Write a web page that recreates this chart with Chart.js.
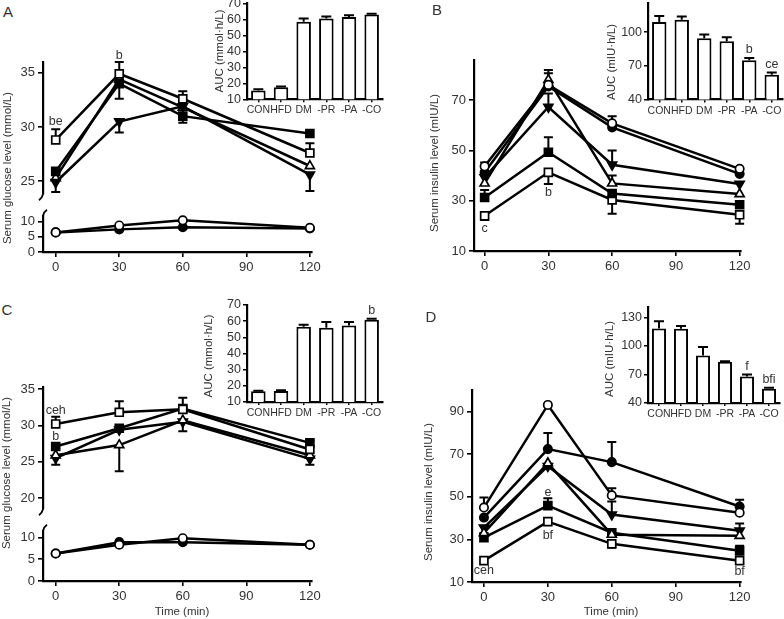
<!DOCTYPE html>
<html><head><meta charset="utf-8">
<script src="https://cdn.jsdelivr.net/npm/chart.js@4.4.0/dist/chart.umd.min.js"></script>
<style>
html,body{margin:0;padding:0;background:#fff;}
#wrap{position:relative;width:784px;height:619px;overflow:hidden;background:#fff;}
canvas{position:absolute;}
.tx{position:absolute;white-space:nowrap;color:#333;font-family:'Liberation Sans',Arial,sans-serif;line-height:1;}
</style></head>
<body><div id="wrap"></div>
<script>
// ---------- shared categories / ticks ----------
const times = [0, 30, 60, 120];
const xTicks = [0, 30, 60, 90, 120];
const groups = ['CON', 'HFD', 'DM', '-PR', '-PA', '-CO'];

// ---------- Panel A: glucose (mmol/L) ----------
const gA_CON = [6.5, 8.8, 10.5, 8.0];
const gA_HFD = [6.5, 7.5, 8.2, 7.8];
const gA_DM  = [25.3, 34.4, 31.8, 26.4];
const gA_PR  = [24.9, 30.5, 31.9, 25.6];
const gA_PA  = [25.9, 34.0, 31.0, 29.4];
const gA_CO  = [28.8, 34.9, 32.6, 27.6];
const eA_PR  = [24.0, 29.5, null, 24.1];
const eA_PA  = [null, 32.6, 30.4, null];
const eA_CO  = [29.8, 36.0, 33.3, 28.5];
const notesA = [{x: 0, y: 30.5, t: 'be'}, {x: 30, y: 36.6, t: 'b'}];
const aucA     = [15.5, 17.5, 58.5, 60.5, 61.5, 63.0];
const aucA_err = [16.3, 18.0, 60.5, 61.8, 62.6, 63.5];
const lettersA = ['', '', '', '', '', ''];

// ---------- Panel B: insulin (mIU/L) ----------
const iB_CON = [43.7, 76.1, 60.8, 42.7];
const iB_HFD = [41.3, 75.5, 59.2, 40.7];
const iB_DM  = [36.9, 78.1, 36.9, 32.7];
const iB_PR  = [39.3, 67.3, 44.3, 36.7];
const iB_PA  = [31.3, 49.3, 32.9, 28.4];
const iB_CO  = [24.0, 41.3, 30.3, 24.4];
const eB_CON = [45.2, 82.0, 63.6, null];
const eB_DM  = [null, 80.7, 40.0, null];
const eB_PR  = [null, 72.7, 50.0, null];
const eB_PA  = [34.3, 55.3, null, null];
const eB_CO  = [22.3, 36.7, 24.8, 20.8];
const notesB = [{x: 0, y: 19.1, t: 'c'}, {x: 30, y: 33.2, t: 'b'}];
const aucB     = [109, 111, 94.5, 92, 75, 62];
const aucB_err = [114.5, 114, 98, 95.5, 77, 64];
const lettersB = ['', '', '', '', 'b', 'ce'];

// ---------- Panel C: glucose (mmol/L) ----------
const gC_CON = [6.3, 8.3, 9.8, 8.3];
const gC_HFD = [6.3, 8.9, 8.9, 8.3];
const gC_DM  = [25.9, 27.3, 30.7, 25.9];
const gC_PR  = [25.5, 29.4, 30.5, 25.4];
const gC_PA  = [27.1, 29.6, 32.3, 27.6];
const gC_CO  = [30.2, 31.8, 32.2, 26.7];
const eC_DM  = [null, 23.7, null, null];
const eC_PR  = [24.6, null, 29.2, 24.6];
const eC_PA  = [null, null, null, 27.9];
const eC_CO  = [31.2, 33.3, 33.8, null];
const notesC = [{x: 0, y: 32.0, t: 'ceh'}, {x: 0, y: 28.5, t: 'b'}];
const aucC     = [16.6, 16.8, 56.5, 56.0, 57.3, 60.8];
const aucC_err = [17.0, 17.2, 57.8, 59.5, 59.5, 61.5];
const lettersC = ['', '', '', '', '', 'b'];

// ---------- Panel D: insulin (mIU/L) ----------
const iD_CON = [44.9, 93.0, 50.6, 42.5];
const iD_HFD = [40.2, 72.3, 66.2, 45.4];
const iD_DM  = [33.0, 65.7, 32.2, 31.7];
const iD_PR  = [35.5, 64.3, 41.6, 34.0];
const iD_PA  = [30.8, 45.8, 33.1, 24.6];
const iD_CO  = [20.0, 38.3, 27.9, 20.0];
const eD_CON = [49.6, null, 53.9, null];
const eD_HFD = [null, 79.8, 75.6, 48.6];
const eD_PR  = [33.0, null, 47.7, 37.4];
const eD_PA  = [null, 49.2, null, 27.0];
const eD_CO  = [null, null, 26.0, 19.0];
const notesD = [{x: 0, y: 15.6, t: 'ceh'}, {x: 30, y: 51.9, t: 'e'}, {x: 30, y: 31.6, t: 'bf'}, {x: 120, y: 14.8, t: 'bf'}];
const aucD     = [118.5, 118, 90, 83.5, 68, 55];
const aucD_err = [126, 121, 99, 84, 70, 56];
const lettersD = ['', '', '', '', 'f', 'bfi'];

// ---------- styling ----------
const FONT = "'Liberation Sans', Arial, sans-serif";
Chart.defaults.font.family = FONT;
Chart.defaults.color = '#333';
const MARK = {
  CON: ['circle', '#fff', 4.2, 0], HFD: ['circle', '#000', 4.2, 0],
  DM: ['triangle', '#fff', 5.2, 0], PR: ['triangle', '#000', 5.2, 180],
  PA: ['rect', '#000', 5.6, 0], CO: ['rect', '#fff', 5.6, 0]
};
function ds(key, vals, err) {
  const m = MARK[key];
  return {label: key, data: times.map((t, i) => ({x: t, y: vals[i]})), err: err || null,
    borderColor: '#000', borderWidth: 2.5, pointStyle: m[0], pointBackgroundColor: m[1],
    pointBorderColor: '#000', pointBorderWidth: 1.7, pointRadius: m[2], pointRotation: m[3],
    tension: 0, clip: false, fill: false};
}

const wrap = document.getElementById('wrap');
function mkCanvas(b) {
  const c = document.createElement('canvas');
  c.width = b.width; c.height = b.height;
  c.style.left = b.left + 'px'; c.style.top = b.top + 'px';
  c.style.width = b.width + 'px'; c.style.height = b.height + 'px';
  wrap.appendChild(c);
  return c;
}
function addText(t, cx, cy, size, rot) {
  const d = document.createElement('div');
  d.className = 'tx'; d.textContent = t;
  d.style.left = cx + 'px'; d.style.top = cy + 'px'; d.style.fontSize = size + 'px';
  d.style.transform = 'translate(-50%,-50%)' + (rot ? ' rotate(-90deg)' : '');
  wrap.appendChild(d);
}

const errPlugin = {
  id: 'errbars',
  beforeDatasetsDraw(chart) {
    const ctx = chart.ctx;
    chart.data.datasets.forEach((d, i) => {
      if (!d.err) return;
      const meta = chart.getDatasetMeta(i);
      const ys = chart.scales[meta.yAxisID];
      const cap = chart.config.type === 'bar' ? 5 : 4.5;
      ctx.save(); ctx.strokeStyle = '#000'; ctx.lineWidth = 2;
      d.err.forEach((e, j) => {
        if (e == null) return;
        const el = meta.data[j];
        const pe = ys.getPixelForValue(e);
        ctx.beginPath(); ctx.moveTo(el.x, el.y); ctx.lineTo(el.x, pe);
        ctx.moveTo(el.x - cap, pe); ctx.lineTo(el.x + cap, pe); ctx.stroke();
      });
      ctx.restore();
    });
  }
};
function notesPlugin(items) {
  return {id: 'notes', afterDatasetsDraw(chart) {
    const ctx = chart.ctx, xs = chart.scales.x, ys = chart.scales.y;
    ctx.save(); ctx.fillStyle = '#333'; ctx.font = '12.5px ' + FONT;
    ctx.textAlign = 'center'; ctx.textBaseline = 'middle';
    items.forEach(n => ctx.fillText(n.t, xs.getPixelForValue(n.x), ys.getPixelForValue(n.y)));
    ctx.restore();
  }};
}
const letterPlugin = {
  id: 'letters',
  afterDatasetsDraw(chart) {
    const ctx = chart.ctx; const d = chart.data.datasets[0];
    if (!d.letters) return;
    const meta = chart.getDatasetMeta(0); const ys = chart.scales.y;
    ctx.save(); ctx.fillStyle = '#333'; ctx.font = '12.5px ' + FONT;
    ctx.textAlign = 'center'; ctx.textBaseline = 'bottom';
    d.letters.forEach((t, j) => {
      if (!t) return;
      const el = meta.data[j];
      const top = Math.min(el.y, d.err ? ys.getPixelForValue(d.err[j]) : el.y);
      ctx.fillText(t, el.x, top - 2);
    });
    ctx.restore();
  }
};
function breakPlugin(where) {
  return {id: 'brk', afterDraw(chart) {
    if (!where) return;
    const a = chart.chartArea, ctx = chart.ctx;
    const x = a.left, y = where === 'bottom' ? a.bottom : a.top;
    ctx.save(); ctx.strokeStyle = '#000'; ctx.lineWidth = 1.8;
    ctx.beginPath();
    if (where === 'bottom') { ctx.moveTo(x, y); ctx.quadraticCurveTo(x - 1, y + 4, x - 4, y + 6); }
    else { ctx.moveTo(x, y); ctx.quadraticCurveTo(x + 1, y - 4, x + 4, y - 6); }
    ctx.stroke(); ctx.restore();
  }};
}

const GRID = {drawOnChartArea: false, drawTicks: true, tickLength: 5, color: '#000', lineWidth: 1.6};
const BORDER = {display: true, color: '#000', width: 2.2};

function lineChart(box, area, cfg) {
  const cv = mkCanvas(box);
  const xh = cfg.showX ? 30 : 0;
  return new Chart(cv, {
    type: 'line',
    data: {datasets: cfg.datasets},
    options: {
      responsive: false, animation: false, events: [],
      layout: {padding: {left: 0, top: area.top - box.top, right: box.left + box.width - area.right,
        bottom: box.top + box.height - area.bottom - xh}},
      plugins: {legend: {display: false}, tooltip: {enabled: false}},
      scales: {
        x: {type: 'linear', bounds: 'data', min: cfg.xMin, max: cfg.xMax, display: cfg.showX,
          afterBuildTicks: s => { s.ticks = xTicks.map(v => ({value: v})); },
          afterFit: s => { s.height = xh; },
          grid: GRID, border: BORDER,
          ticks: {padding: 3, color: '#333', font: {size: 13}, maxRotation: 0, autoSkip: false}},
        y: {type: 'linear', bounds: 'data', min: cfg.yMin, max: cfg.yMax,
          afterBuildTicks: s => { s.ticks = cfg.yTicks.map(v => ({value: v})); },
          afterFit: s => { s.width = area.left - box.left; },
          grid: GRID, border: BORDER,
          ticks: {padding: 3, color: '#333', font: {size: 13}, autoSkip: false}}
      }
    },
    plugins: [errPlugin, notesPlugin(cfg.notes || []), breakPlugin(cfg.brk)]
  });
}

function barChart(box, area, cfg) {
  const cv = mkCanvas(box);
  const xh = 20;
  return new Chart(cv, {
    type: 'bar',
    data: {labels: groups, datasets: [{data: cfg.vals, err: cfg.err, letters: cfg.letters,
      backgroundColor: '#fff', borderColor: '#000', borderWidth: 2, borderSkipped: 'start',
      barPercentage: 0.64, categoryPercentage: 1}]},
    options: {
      responsive: false, animation: false, events: [],
      layout: {padding: {left: 0, top: area.top - box.top, right: box.left + box.width - area.right,
        bottom: box.top + box.height - area.bottom - xh}},
      plugins: {legend: {display: false}, tooltip: {enabled: false}},
      scales: {
        x: {type: 'category', offset: true,
          afterFit: s => { s.height = xh; },
          grid: {drawOnChartArea: false, drawTicks: true, tickLength: 3, color: '#000', lineWidth: 1.5, offset: false},
          border: BORDER,
          ticks: {padding: 2, color: '#333', font: {size: 10.5}, maxRotation: 0, autoSkip: false}},
        y: {type: 'linear', bounds: 'data', min: cfg.yMin, max: cfg.yMax,
          afterBuildTicks: s => { s.ticks = cfg.yTicks.map(v => ({value: v})); },
          afterFit: s => { s.width = area.left - box.left; },
          grid: {drawOnChartArea: false, drawTicks: true, tickLength: 4, color: '#000', lineWidth: 1.5},
          border: BORDER,
          ticks: {padding: 2, color: '#333', font: {size: 12.5}, autoSkip: false}}
      }
    },
    plugins: [errPlugin, letterPlugin]
  });
}

// ---------- Panel A ----------
lineChart({left: 0, top: 40, width: 330, height: 165}, {left: 43, top: 61.9, right: 312, bottom: 197.3},
  {showX: false, xMin: -6, xMax: 121, yMin: 23.8, yMax: 36, yTicks: [25, 30, 35], brk: 'bottom', notes: notesA,
   datasets: [ds('CO', gA_CO, eA_CO), ds('PA', gA_PA, eA_PA), ds('PR', gA_PR, eA_PR), ds('DM', gA_DM)]});
lineChart({left: 0, top: 205, width: 330, height: 80}, {left: 43, top: 213.6, right: 312, bottom: 252},
  {showX: true, xMin: -6, xMax: 121, yMin: 0, yMax: 12, yTicks: [0, 5, 10], brk: 'top',
   datasets: [ds('CON', gA_CON), ds('HFD', gA_HFD)]});
barChart({left: 200, top: -10, width: 200, height: 130}, {left: 247, top: 3.3, right: 383, bottom: 99.3},
  {vals: aucA, err: aucA_err, letters: lettersA, yMin: 10, yMax: 70, yTicks: [10, 20, 30, 40, 50, 60, 70]});

// ---------- Panel B ----------
lineChart({left: 392, top: 40, width: 392, height: 250}, {left: 474, top: 60, right: 740.7, bottom: 251},
  {showX: true, xMin: -5, xMax: 120.5, yMin: 10, yMax: 86, yTicks: [10, 30, 50, 70], notes: notesB,
   datasets: [ds('CON', iB_CON, eB_CON), ds('HFD', iB_HFD), ds('DM', iB_DM, eB_DM), ds('PR', iB_PR, eB_PR),
              ds('PA', iB_PA, eB_PA), ds('CO', iB_CO, eB_CO)]});
barChart({left: 600, top: -10, width: 200, height: 130}, {left: 648, top: 3, right: 783, bottom: 99.5},
  {vals: aucB, err: aucB_err, letters: lettersB, yMin: 40, yMax: 126, yTicks: [40, 70, 100]});

// ---------- Panel C ----------
lineChart({left: 0, top: 370, width: 330, height: 150}, {left: 43, top: 387.5, right: 312, bottom: 510},
  {showX: false, xMin: -6, xMax: 121, yMin: 18.5, yMax: 35.2, yTicks: [20, 25, 30, 35], brk: 'bottom', notes: notesC,
   datasets: [ds('CO', gC_CO, eC_CO), ds('DM', gC_DM, eC_DM), ds('PA', gC_PA, eC_PA), ds('PR', gC_PR, eC_PR)]});
lineChart({left: 0, top: 520, width: 330, height: 99}, {left: 43, top: 528, right: 312, bottom: 581},
  {showX: true, xMin: -6, xMax: 121, yMin: 0, yMax: 11.5, yTicks: [0, 5, 10], brk: 'top',
   datasets: [ds('CON', gC_CON), ds('HFD', gC_HFD)]});
barChart({left: 200, top: 290, width: 200, height: 135}, {left: 247, top: 305, right: 383, bottom: 402},
  {vals: aucC, err: aucC_err, letters: lettersC, yMin: 10, yMax: 70, yTicks: [10, 20, 30, 40, 50, 60, 70]});

// ---------- Panel D ----------
lineChart({left: 392, top: 370, width: 392, height: 249}, {left: 472, top: 390, right: 740.7, bottom: 582},
  {showX: true, xMin: -5.6, xMax: 120.5, yMin: 10, yMax: 100, yTicks: [10, 30, 50, 70, 90], notes: notesD,
   datasets: [ds('CON', iD_CON, eD_CON), ds('HFD', iD_HFD, eD_HFD), ds('DM', iD_DM), ds('PR', iD_PR, eD_PR),
              ds('PA', iD_PA, eD_PA), ds('CO', iD_CO, eD_CO)]});
barChart({left: 600, top: 295, width: 200, height: 130}, {left: 648, top: 307, right: 780, bottom: 403},
  {vals: aucD, err: aucD_err, letters: lettersD, yMin: 40, yMax: 141, yTicks: [40, 70, 100, 130]});

// ---------- titles / panel letters ----------
addText('A', 8, 11, 15); addText('B', 437, 9, 15); addText('C', 7, 309, 15); addText('D', 431, 316, 15);
addText('Serum glucose level (mmol/L)', 8, 168, 11.5, true);
addText('Serum insulin level (mIU/L)', 435, 163, 11.5, true);
addText('Serum glucose level (mmol/L)', 7, 473, 11.5, true);
addText('Serum insulin level (mIU/L)', 429, 492, 11.5, true);
addText('AUC (mmol·h/L)', 220, 51, 11.5, true);
addText('AUC (mIU·h/L)', 612, 62, 11.5, true);
addText('AUC (mmol·h/L)', 209, 356, 11.5, true);
addText('AUC (mIU·h/L)', 610, 359, 11.5, true);
addText('Time (min)', 182, 612, 11.5);
addText('Time (min)', 611, 612, 11.5);
</script>
</body></html>
